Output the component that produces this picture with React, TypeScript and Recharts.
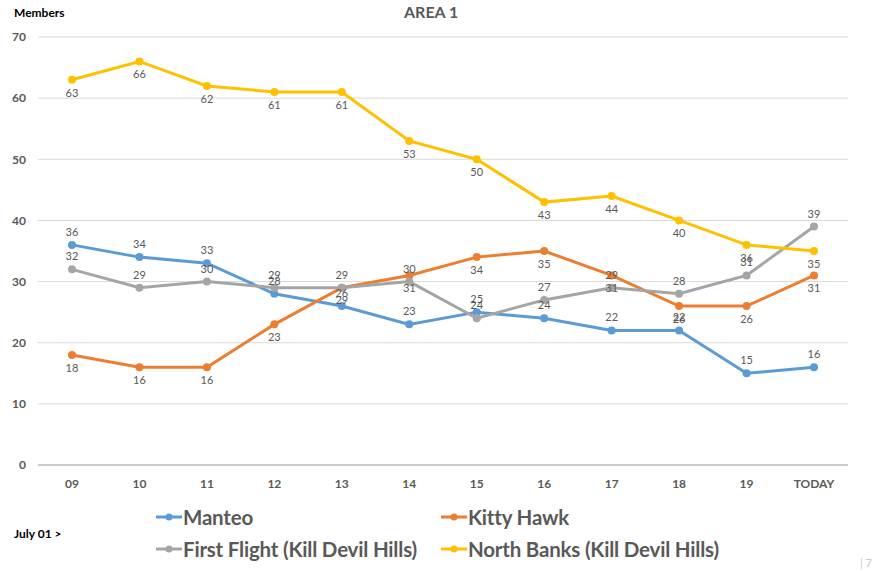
import React from 'react'
import { CartesianGrid, LabelList, Line, LineChart, ReferenceLine, XAxis, YAxis } from 'recharts';

// members per day, area 1
const days = ['09', '10', '11', '12', '13', '14', '15', '16', '17', '18', '19', 'TODAY'];
const manteo = [36, 34, 33, 28, 26, 23, 25, 24, 22, 22, 15, 16];
const kittyHawk = [18, 16, 16, 23, 29, 31, 34, 35, 31, 26, 26, 31];
const firstFlight = [32, 29, 30, 29, 29, 30, 24, 27, 29, 28, 31, 39];
const northBanks = [63, 66, 62, 61, 61, 53, 50, 43, 44, 40, 36, 35];
const yTicks = [0, 10, 20, 30, 40, 50, 60, 70];

const SERIES = [
    { key: 'manteo', name: 'Manteo', color: '#5B9BD5', labelPos: 'top' },
    { key: 'kittyHawk', name: 'Kitty Hawk', color: '#ED7D31', labelPos: 'bottom' },
    { key: 'firstFlight', name: 'First Flight (Kill Devil Hills)', color: '#A5A5A5', labelPos: 'top' },
    { key: 'northBanks', name: 'North Banks (Kill Devil Hills)', color: '#FFC000', labelPos: 'bottom' },
] as const;

const data = days.map((day, i) => ({
    day,
    manteo: manteo[i],
    kittyHawk: kittyHawk[i],
    firstFlight: firstFlight[i],
    northBanks: northBanks[i],
}));

const FONT = 'Lato, "Open Sans", sans-serif';
const TEXT = '#595959';

//LEGEND: 2 x 2 GRID WITH LINE + DOT MARKERS
const ChartLegend = () => (
    <div style={{ display: 'grid', gridTemplateColumns: '285px 300px', rowGap: 6, fontFamily: FONT }}>
        {SERIES.map(s => (
            <div key={s.key} style={{ display: 'flex', alignItems: 'center', height: 26 }}>
                <svg width={28} height={12}>
                    <line x1={1} y1={6} x2={27} y2={6} stroke={s.color} strokeWidth={3} />
                    <circle cx={14} cy={6} r={3.5} fill={s.color} />
                </svg>
                <span style={{ fontSize: 20.5, fontWeight: 700, color: TEXT, letterSpacing: -0.2 }}>{s.name}</span>
            </div>
        ))}
    </div>
);

export default function App() {
    return (
        <div style={{ position: 'absolute', left: 0, top: 0, width: 877, height: 571, background: '#fff', fontFamily: FONT }}>
            <div style={{ position: 'absolute', left: 14, top: 5, fontSize: 12, fontWeight: 700, color: '#000' }}>Members</div>
            <div style={{ position: 'absolute', left: 404, top: 2, fontSize: 16, fontWeight: 700, color: TEXT }}>AREA 1</div>
            <div style={{ position: 'absolute', left: 14, top: 526, fontSize: 12, fontWeight: 700, color: '#000' }}>July 01 &gt;</div>
            <div style={{ position: 'absolute', left: 860, top: 556, fontSize: 11, color: '#c8c8c8' }}>| 7</div>
            <LineChart width={877} height={571} data={data} margin={{ top: 37, right: 29, bottom: 76, left: 0 }}>
                <CartesianGrid vertical={false} stroke="#d9d9d9" strokeWidth={1} />
                <XAxis dataKey="day" height={30} axisLine={false} tickLine={false} tickSize={0} tickMargin={14}
                    padding={{ left: 34, right: 34 }} interval={0}
                    tick={{ fill: TEXT, fontSize: 12, fontWeight: 700, fontFamily: FONT }} />
                <YAxis domain={[0, 70]} ticks={yTicks} width={38} axisLine={false} tickLine={false} tickMargin={6}
                    tick={{ fill: TEXT, fontSize: 12, fontWeight: 700, fontFamily: FONT }} />
                <ReferenceLine y={0} stroke="#bfbfbf" strokeWidth={1.5} />
                {SERIES.map(s => (
                    <Line key={s.key} dataKey={s.key} name={s.name} stroke={s.color} strokeWidth={3}
                        dot={{ r: 4, fill: s.color, stroke: s.color, strokeWidth: 0 }} isAnimationActive={false}>
                        <LabelList dataKey={s.key} position={s.labelPos} offset={9} fill={TEXT} fontSize={11} fontFamily={FONT} />
                    </Line>
                ))}
            </LineChart>
            <div style={{ position: 'absolute', left: 155, top: 504 }}>
                <ChartLegend />
            </div>
        </div>
    )
}
